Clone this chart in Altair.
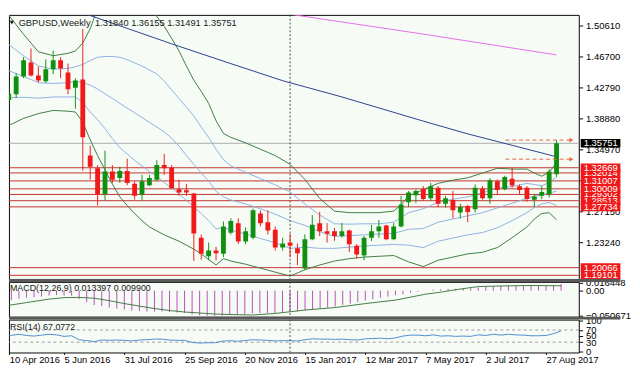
import altair as alt
import pandas as pd

# ---------------- data ----------------
DATE_LABELS = ["10 Apr 2016", "5 Jun 2016", "31 Jul 2016", "25 Sep 2016", "20 Nov 2016",
               "15 Jan 2017", "12 Mar 2017", "7 May 2017", "2 Jul 2017", "27 Aug 2017"]

OPEN = [1.4120, 1.4195, 1.4418, 1.4593, 1.4431, 1.4357, 1.4508, 1.4622, 1.4467, 1.4276,
        1.4380, 1.3422, 1.3259, 1.2934, 1.3218, 1.3137, 1.3227, 1.3064, 1.2926, 1.3047,
        1.3117, 1.3300, 1.3267, 1.2995, 1.2983, 1.2942, 1.2384, 1.2150, 1.2222, 1.2181,
        1.2446, 1.2568, 1.2336, 1.2384, 1.2690, 1.2580, 1.2486, 1.2262, 1.2323, 1.2250,
        1.1998, 1.2364, 1.2568, 1.2466, 1.2466, 1.2405, 1.2474, 1.2283, 1.2161, 1.2384,
        1.2466, 1.2539, 1.2364, 1.2527, 1.2832, 1.2921, 1.2999, 1.2881, 1.3015, 1.2812,
        1.2860, 1.2702, 1.2783, 1.2742, 1.3003, 1.2881, 1.3096, 1.2995, 1.3129, 1.3035,
        1.3015, 1.2864, 1.2913, 1.2934, 1.31840]
HIGH = [1.4345, 1.4459, 1.4663, 1.4772, 1.4541, 1.4633, 1.4744, 1.4660, 1.4581, 1.4395,
        1.5018, 1.3544, 1.3300, 1.3483, 1.3300, 1.3280, 1.3381, 1.3097, 1.3178, 1.3178,
        1.3361, 1.3442, 1.3300, 1.3117, 1.3064, 1.2950, 1.2425, 1.2323, 1.2270, 1.2588,
        1.2629, 1.2629, 1.2515, 1.2751, 1.2730, 1.2730, 1.2527, 1.2384, 1.2433, 1.2311,
        1.2425, 1.2669, 1.2710, 1.2568, 1.2507, 1.2568, 1.2486, 1.2303, 1.2405, 1.2547,
        1.2608, 1.2547, 1.2568, 1.2913, 1.2974, 1.2995, 1.3035, 1.3076, 1.3035, 1.2913,
        1.2974, 1.2812, 1.2799, 1.3056, 1.3035, 1.3137, 1.3117, 1.3166, 1.3267, 1.3056,
        1.3035, 1.2934, 1.3035, 1.3250, 1.36155]
LOW = [1.4050, 1.4146, 1.4398, 1.4418, 1.4345, 1.4337, 1.4447, 1.4398, 1.4195, 1.4012,
       1.3228, 1.3117, 1.2790, 1.2852, 1.3076, 1.3076, 1.3047, 1.2865, 1.2852, 1.3035,
       1.3097, 1.3178, 1.2995, 1.2913, 1.2913, 1.2090, 1.2108, 1.2100, 1.2100, 1.2140,
       1.2425, 1.2303, 1.2303, 1.2364, 1.2527, 1.2425, 1.2222, 1.2222, 1.2140, 1.2040,
       1.1978, 1.2352, 1.2405, 1.2323, 1.2344, 1.2384, 1.2201, 1.2120, 1.2100, 1.2344,
       1.2384, 1.2352, 1.2352, 1.2515, 1.2771, 1.2824, 1.2852, 1.2852, 1.2771, 1.2763,
       1.2628, 1.2628, 1.2580, 1.2702, 1.2864, 1.2812, 1.2921, 1.2982, 1.3015, 1.2934,
       1.2840, 1.2771, 1.2872, 1.2893, 1.31491]
CLOSE = [1.4200, 1.4418, 1.4622, 1.4431, 1.4366, 1.4508, 1.4622, 1.4520, 1.4256, 1.4366,
         1.3650, 1.3280, 1.2934, 1.3218, 1.3117, 1.3227, 1.3076, 1.2913, 1.3097, 1.3137,
         1.3300, 1.3259, 1.3007, 1.2954, 1.2954, 1.2437, 1.2181, 1.2222, 1.2189, 1.2527,
         1.2596, 1.2336, 1.2466, 1.2730, 1.2568, 1.2474, 1.2262, 1.2311, 1.2283, 1.2189,
         1.2364, 1.2547, 1.2466, 1.2433, 1.2405, 1.2466, 1.2303, 1.2173, 1.2384, 1.2466,
         1.2527, 1.2364, 1.2527, 1.2803, 1.2954, 1.2974, 1.2872, 1.3035, 1.2812, 1.2881,
         1.2730, 1.2771, 1.2710, 1.3015, 1.2881, 1.3109, 1.2986, 1.3149, 1.3043, 1.2986,
         1.2872, 1.2905, 1.2962, 1.3218, 1.35751]

BAND_BARS = [0, 2, 4, 6, 8, 9, 10, 11, 12, 13, 14, 15, 16, 17, 18, 19, 20, 21, 22, 23, 24, 25,
             26, 27, 28, 29, 30, 32, 34, 36, 38, 40, 42, 44, 46, 48, 50, 52, 54, 56, 58, 60,
             62, 64, 66, 68, 70, 71, 72, 73, 74]
BB_UP1 = [1.482, 1.468, 1.455, 1.451, 1.452, 1.454, 1.457, 1.462, 1.466, 1.467, 1.467, 1.466,
          1.463, 1.459, 1.455, 1.450, 1.445, 1.436, 1.425, 1.414, 1.403, 1.392, 1.378, 1.365,
          1.350, 1.337, 1.329, 1.321, 1.313, 1.305, 1.296, 1.281, 1.267, 1.256, 1.2555, 1.256,
          1.256, 1.258, 1.270, 1.275, 1.283, 1.287, 1.290, 1.295, 1.301, 1.303, 1.307, 1.3055,
          1.304, 1.308, 1.315]
BB_MID = [1.449, 1.442, 1.434, 1.433, 1.434, 1.436, 1.434, 1.431, 1.426, 1.420, 1.414, 1.408,
          1.402, 1.396, 1.390, 1.384, 1.378, 1.372, 1.364, 1.354, 1.342, 1.331, 1.320, 1.310,
          1.297, 1.290, 1.286, 1.281, 1.275, 1.268, 1.260, 1.254, 1.246, 1.240, 1.241, 1.242,
          1.243, 1.244, 1.249, 1.250, 1.258, 1.262, 1.266, 1.270, 1.276, 1.282, 1.288, 1.291,
          1.292, 1.295, 1.297]
BB_LO1 = [1.415, 1.4155, 1.4145, 1.416, 1.416, 1.416, 1.409, 1.397, 1.3875, 1.376, 1.3635, 1.352,
          1.344, 1.336, 1.329, 1.322, 1.316, 1.308, 1.301, 1.294, 1.2855, 1.277, 1.269, 1.260,
          1.2495, 1.2515, 1.248, 1.243, 1.2375, 1.232, 1.225, 1.2265, 1.225, 1.225, 1.2265, 1.228,
          1.229, 1.230, 1.229, 1.226, 1.234, 1.238, 1.242, 1.245, 1.251, 1.260, 1.270, 1.2765,
          1.281, 1.283, 1.279]
BB_LO2 = [1.380, 1.389, 1.395, 1.399, 1.398, 1.397, 1.384, 1.362, 1.342, 1.324, 1.306, 1.290,
          1.279, 1.269, 1.260, 1.252, 1.247, 1.242, 1.238, 1.234, 1.229, 1.224, 1.218, 1.211,
          1.204, 1.212, 1.209, 1.205, 1.200, 1.195, 1.190, 1.198, 1.204, 1.209, 1.212, 1.214,
          1.215, 1.216, 1.208, 1.202, 1.210, 1.214, 1.218, 1.220, 1.226, 1.2385, 1.252, 1.262,
          1.269, 1.270, 1.261]
# upper 2-sigma band: it leaves the top of the pane between the two pieces
BB_UP2_A_BARS = [0, 1, 2, 4, 6, 8, 9, 10, 11, 11.7]
BB_UP2_A = [1.519, 1.507, 1.495, 1.473, 1.468, 1.471, 1.474, 1.484, 1.502, 1.5200]
BB_UP2_B_BARS = [19.8, 21, 22, 23, 24, 25, 26, 27, 28, 29, 30, 32, 34, 36, 38, 40, 42, 44, 46,
                 48, 50, 52, 53, 54, 56, 58, 60, 62, 64, 66, 68, 70, 71, 72, 73, 74]
BB_UP2_B = [1.5200, 1.505, 1.490, 1.474, 1.455, 1.437, 1.423, 1.408, 1.386, 1.370, 1.365, 1.358,
            1.350, 1.342, 1.331, 1.312, 1.288, 1.272, 1.270, 1.270, 1.270, 1.272, 1.280, 1.291,
            1.299, 1.307, 1.311, 1.314, 1.320, 1.326, 1.325, 1.325, 1.320, 1.316, 1.321, 1.333]

MA_SLOW_BARS = [10.6, 22, 30, 37, 45, 56, 62, 68, 74]
MA_SLOW = [1.5200, 1.4830, 1.458, 1.4365, 1.4160, 1.3855, 1.3694, 1.355, 1.3405]
MA_LONG_BARS = [38.2, 56.2, 74]
MA_LONG = [1.5200, 1.4950, 1.4690]

LEVELS_BACK = [1.32014, 1.29302, 1.28513]
LEVELS_FRONT = [1.32669, 1.31007, 1.30009, 1.27734, 1.20066, 1.19101]
ALERTS = [1.36155, 1.3375]
PRICE_TICKS = [1.23240, 1.27150, 1.31060, 1.34970, 1.38880, 1.42790, 1.46700, 1.50610]

MACD = [-0.021, -0.019, -0.016, -0.014, -0.013, -0.012, -0.010, -0.009, -0.010, -0.010,
        -0.017, -0.023, -0.029, -0.031, -0.034, -0.036, -0.038, -0.040, -0.041, -0.042,
        -0.042, -0.042, -0.043, -0.044, -0.045, -0.048, -0.050, -0.0505, -0.0507, -0.050,
        -0.049, -0.049, -0.048, -0.046, -0.045, -0.045, -0.045, -0.044, -0.043, -0.042,
        -0.040, -0.038, -0.036, -0.034, -0.032, -0.029, -0.026, -0.023, -0.020, -0.017,
        -0.014, -0.012, -0.009, -0.007, -0.004, -0.002, 0.000, 0.002, 0.003, 0.004,
        0.004, 0.005, 0.005, 0.007, 0.008, 0.009, 0.010, 0.011, 0.011, 0.011,
        0.011, 0.010, 0.010, 0.011, 0.013397]
SIGNAL_BARS = [0, 3, 6, 8, 10, 12, 14, 16, 18, 20, 22, 24, 26, 28, 30, 33, 36, 40, 44, 48,
               52, 56, 58, 60, 63, 66, 70, 72, 74]
SIGNAL = [-0.031, -0.024, -0.017, -0.014, -0.0135, -0.0152, -0.020, -0.026, -0.031, -0.036,
          -0.040, -0.043, -0.045, -0.047, -0.048, -0.049, -0.046, -0.039, -0.034, -0.026,
          -0.019, -0.007, -0.003, 0.002, 0.0084, 0.0095, 0.0105, 0.0102, 0.0099]
MACD_TICKS = [0.016448, 0.0, -0.050671]

RSI = [47, 52, 56, 52, 50, 53, 56, 54, 49, 51, 38, 35, 32, 37, 36, 37, 36, 34, 37, 38,
       40, 40, 37, 36, 36, 29, 27, 28, 28, 33, 35, 33, 35, 38, 37, 36, 34, 35, 35, 34,
       38, 41, 40, 40, 39, 40, 38, 37, 41, 42, 43, 41, 44, 50, 53, 53, 51, 54, 50, 51,
       49, 50, 49, 54, 52, 56, 53, 56, 54, 53, 51, 51, 52, 58, 67.0772]
RSI_TICKS = [100, 70, 50, 30, 0]
RSI_LEVELS = [70, 30]

# ---------------- style ----------------
W = 589
H_MAIN, H_MACD, H_RSI = 273, 36, 34
FONT = "Liberation Sans"
GREEN, RED = "#109010", "#F01A1A"
BB_GREEN, BB_BLUE = "#3E7A3E", "#8DB0E0"
LEVEL_RED = "#C4302B"
VLINE_BAR = 38
ALERT_FROM_BAR = 67.1
ARROW_BAR = 76.0
X_START = 0.68

xs = alt.Scale(domain=[X_START, 76.35], nice=False, zero=False)
ys = alt.Scale(domain=[1.18636, 1.51952], nice=False, zero=False)
ms = alt.Scale(domain=[-0.0525, 0.0178], nice=False, zero=False)
rs = alt.Scale(domain=[-4, 104], nice=False, zero=False)

main_axis = alt.Axis(orient="right", values=PRICE_TICKS, format=".5f", tickSize=4,
                     labelPadding=3, title=None, labelOverlap=False)
macd_axis = alt.Axis(orient="right", values=MACD_TICKS, tickSize=4, labelPadding=3, title=None,
                     labelOverlap=False,
                     labelExpr="datum.value == 0 ? '0.00' : format(datum.value, '.6f')")
rsi_axis = alt.Axis(orient="right", values=RSI_TICKS, tickSize=4, labelPadding=3, title=None,
                    labelOverlap=False)
tick_bars = [max(8 * k, X_START + 0.05) for k in range(len(DATE_LABELS))]
lab_expr = "[" + ",".join("'%s'" % d for d in DATE_LABELS) + "][round(datum.value / 8)]"
x_axis_bottom = alt.Axis(values=tick_bars, labelExpr=lab_expr,
                         labelAlign="left", tickSize=2, labelPadding=0, title=None,
                         labelOverlap=False, labelFlush=False, labelFontSize=9.6)

X = alt.X("i:Q", scale=xs, axis=None)


def YM(f):
    return alt.Y(f, type="quantitative", scale=ys, axis=main_axis)


one = pd.DataFrame({"a": [0]})


def label(text, x, y, size=9.6):
    return alt.Chart(pd.DataFrame({"t": [text]})).mark_text(
        align="left", baseline="middle", font=FONT, fontSize=size, color="#1A1A1A").encode(
        x=alt.value(x), y=alt.value(y), text="t:N")


# ---------------- main panel ----------------
cdf = pd.DataFrame({"i": range(len(OPEN)), "o": OPEN, "h": HIGH, "l": LOW, "c": CLOSE})
up = cdf[cdf.c >= cdf.o]
dn = cdf[cdf.c < cdf.o]


def line(bars, vals, color):
    return alt.Chart(pd.DataFrame({"i": bars, "v": vals})).mark_line(
        clip=True, strokeWidth=1, color=color).encode(x=X, y=YM("v:Q"))


levels = alt.Chart(pd.DataFrame({"p": LEVELS_BACK + LEVELS_FRONT})).mark_rule(
    color=LEVEL_RED, strokeWidth=1).encode(y=YM("p:Q"))
bid = alt.Chart(pd.DataFrame({"p": [CLOSE[-1]]})).mark_rule(color="#AAAAAA", strokeWidth=1).encode(y=YM("p:Q"))
band_layers = [
    line(BAND_BARS, BB_UP1, BB_BLUE), line(BAND_BARS, BB_MID, BB_BLUE), line(BAND_BARS, BB_LO1, BB_BLUE),
    line(BB_UP2_A_BARS, BB_UP2_A, BB_GREEN), line(BB_UP2_B_BARS, BB_UP2_B, BB_GREEN),
    line(BAND_BARS, BB_LO2, BB_GREEN),
    line(MA_SLOW_BARS, MA_SLOW, "#283C8E"), line(MA_LONG_BARS, MA_LONG, "#E46AE4"),
]
vline = alt.Chart(pd.DataFrame({"i": [VLINE_BAR]})).mark_rule(
    color="#444444", strokeDash=[2, 2], strokeWidth=1).encode(x=X)
candles = []
for d, col in [(up, GREEN), (dn, RED)]:
    candles.append(alt.Chart(d).mark_rule(strokeWidth=1, color=col, clip=True).encode(
        x=X, y=YM("l:Q"), y2="h:Q"))
    candles.append(alt.Chart(d).mark_bar(size=5, color=col, clip=True).encode(
        x=X, y=YM("o:Q"), y2="c:Q"))

adf = pd.DataFrame({"p": ALERTS, "x1": [ALERT_FROM_BAR] * 2, "x2": [ARROW_BAR] * 2})
alerts = alt.Chart(adf).mark_rule(color="#E8643C", strokeDash=[4, 3], strokeWidth=1).encode(
    x=alt.X("x1:Q", scale=xs, axis=None), x2="x2:Q", y=YM("p:Q"))
arrows = alt.Chart(adf).mark_point(shape="triangle-right", filled=True, size=22, color="#E8643C",
                                   opacity=1).encode(x=alt.X("x2:Q", scale=xs, axis=None), y=YM("p:Q"))

HALF = 0.0054


def label_boxes(vals, fill):
    d = pd.DataFrame({"p": vals})
    d["t"] = ["%.5f" % v for v in vals]
    base = alt.Chart(d).transform_calculate(top="datum.p + %f" % HALF, bot="datum.p - %f" % HALF)
    r = base.mark_rect(color=fill).encode(x=alt.value(W + 2), x2=alt.value(W + 43),
                                          y=YM("top:Q"), y2="bot:Q")
    t = base.mark_text(align="left", baseline="middle", color="white", font=FONT, fontSize=9.8).encode(
        x=alt.value(W + 5), y=YM("p:Q"), text="t:N")
    return [r, t]


header_tri = alt.Chart(one).mark_point(shape="triangle-down", filled=True, size=20, color="#222",
                                       opacity=1).encode(x=alt.value(3), y=alt.value(8))

main = alt.layer(
    levels, bid, *band_layers, vline, *candles, alerts, arrows,
    *label_boxes(LEVELS_BACK, "#F01818"),
    *label_boxes(LEVELS_FRONT, "#F01818"),
    *label_boxes([CLOSE[-1]], "#000000"),
    header_tri, label("GBPUSD,Weekly", 10, 9), label("1.31840 1.36155 1.31491 1.35751", 89, 9),
).properties(width=W, height=H_MAIN)

# ---------------- MACD panel ----------------
mdf = pd.DataFrame({"i": range(len(MACD)), "m": MACD})
mdf = mdf[mdf.i >= X_START]
sdf = pd.DataFrame({"i": SIGNAL_BARS, "v": SIGNAL})
sep = alt.Chart(one).mark_rect(color="#5A5A5A").encode(
    x=alt.value(0), x2=alt.value(W + 43), y=alt.value(-3), y2=alt.value(0))
hist = alt.Chart(mdf).mark_rule(color="#B84CB8", strokeWidth=1).encode(
    x=X, y=alt.Y("m:Q", scale=ms, axis=macd_axis), y2=alt.datum(0))
sig = alt.Chart(sdf).mark_line(color="#3E7A3E", strokeWidth=1, clip=True).encode(
    x=X, y=alt.Y("v:Q", scale=ms, axis=macd_axis))
macd = alt.layer(hist, sig, vline, sep, label("MACD(12,26,9) 0.013397 0.009900", 1, 6, 9.2)).properties(
    width=W, height=H_MACD)

# ---------------- RSI panel ----------------
XB = alt.X("i:Q", scale=xs, axis=x_axis_bottom)
rdf = pd.DataFrame({"i": range(len(RSI)), "r": RSI})
rsi_lv = alt.Chart(pd.DataFrame({"r": RSI_LEVELS})).mark_rule(
    color="#9A9A9A", strokeDash=[3, 3], strokeWidth=1).encode(y=alt.Y("r:Q", scale=rs, axis=rsi_axis))
rsi_line = alt.Chart(rdf).mark_line(color="#4C8CD0", strokeWidth=1, clip=True).encode(
    x=XB, y=alt.Y("r:Q", scale=rs, axis=rsi_axis))
vline_b = alt.Chart(pd.DataFrame({"i": [VLINE_BAR]})).mark_rule(
    color="#444444", strokeDash=[2, 2], strokeWidth=1).encode(x=XB)
rsi = alt.layer(rsi_lv, rsi_line, vline_b, sep, label("RSI(14) 67.0772", 1, 8, 9.2)).properties(
    width=W, height=H_RSI)

chart = alt.vconcat(main, macd, rsi, spacing=3, bounds="flush").properties(
    padding={"left": 0, "top": 0, "right": 0, "bottom": 0},
    background="white",
).configure_view(stroke="#000000", strokeWidth=1, fill="#F6FBF6").configure_axis(
    labelFont=FONT, labelFontSize=9.8, labelColor="#000000", tickColor="#000000",
    domain=False, grid=False)

chart.save("out.html", embed_options={"renderer": "svg", "actions": False})
